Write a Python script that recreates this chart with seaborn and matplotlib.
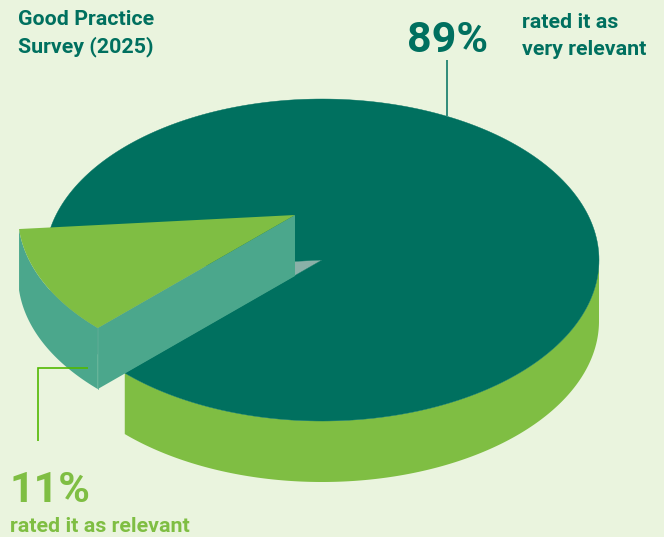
import numpy as np
import pandas as pd
import matplotlib
matplotlib.use("Agg")
import matplotlib.pyplot as plt
import seaborn as sns

# Survey shares
categories = ["very relevant", "relevant"]
shares = [89, 11]
share_labels = ["89%", "11%"]

BG = "#EAF4DE"
DARK = "#00705F"
GREEN = "#7FBE43"
TEAL = "#4BA78C"
INNER = "#8AB1A8"
LEADER = "#52B800"

sns.set_theme(style="white", rc={"figure.facecolor": BG, "axes.facecolor": BG})
plt.rcParams["font.family"] = ["Roboto", "DejaVu Sans"]

survey = pd.DataFrame({"category": categories, "share": shares})
sweep = survey.set_index("category")["share"] * 3.6

# Ellipse projection of the tilted disc, in pixel units
CX, CY, RX, RY = 322.0, 260.0, 277.0, 161.0
DEPTH = 61.0
OFFSET = (-27.0, -45.0)     # displacement of the pulled-out slice
CUT = 224.6                 # angle where the small slice starts, going clockwise


def rim(a0, a1, dx=0.0, dy=0.0, n=240):
    a = np.radians(np.linspace(a0, a1, n))
    return CX + dx + RX * np.cos(a), CY + dy - RY * np.sin(a)


fig = plt.figure(figsize=(6.64, 5.37), dpi=100)
ax = fig.add_axes([0, 0, 1, 1])
ax.set_xlim(0, 664)
ax.set_ylim(537, 0)
ax.axis("off")

cut_end = CUT - sweep["relevant"]

# Outer wall of the large sector (front part only)
x, y = rim(CUT, 360)
ax.fill(np.r_[x, x[::-1]], np.r_[y, y[::-1] + DEPTH], color=GREEN, lw=0, zorder=1)

# Top of the large sector and the exposed notch
x, y = rim(CUT, CUT + sweep["very relevant"])
ax.fill(np.r_[CX, x], np.r_[CY, y], color=DARK, lw=0.3, ec=DARK, zorder=2)
x, y = rim(cut_end, CUT)
ax.fill(np.r_[CX, x], np.r_[CY, y], color=INNER, lw=0, zorder=1.5)

# Pulled-out slice: outer wall, cut wall, top
dx, dy = OFFSET
x, y = rim(cut_end, CUT, dx, dy)
ax.fill(np.r_[x, x[::-1]], np.r_[y, y[::-1] + DEPTH], color=TEAL, lw=0, zorder=3)
ax.fill([CX + dx, x[-1], x[-1], CX + dx],
        [CY + dy, y[-1], y[-1] + DEPTH, CY + dy + DEPTH], color=TEAL, lw=0, zorder=3)
ax.plot([x[-1], x[-1]], [y[-1], y[-1] + DEPTH], color="#56AC93", lw=0.6, zorder=3.1)
ax.fill(np.r_[CX + dx, x], np.r_[CY + dy, y], color=GREEN, lw=0, zorder=4)

# Leader lines
ax.plot([447, 447], [60, 116], color=DARK, lw=1.1, zorder=5, solid_capstyle="butt")
ax.plot([38, 38, 88], [441, 368, 368], color=LEADER, lw=1.2, zorder=5,
        solid_capstyle="butt", solid_joinstyle="miter")

# Text
bold = dict(fontweight="bold", va="baseline", ha="left")
ax.text(18, 25, "Good Practice", color=DARK, fontsize=15.4, **bold)
ax.text(18, 52, "Survey (2025)", color=DARK, fontsize=15.4, **bold)
ax.text(407, 52, share_labels[0], color=DARK, fontsize=31, **bold)
ax.text(522, 28, "rated it as", color=DARK, fontsize=15.4, **bold)
ax.text(522, 55, "very relevant", color=DARK, fontsize=15.4, **bold)
ax.text(9.5, 502, share_labels[1], color=GREEN, fontsize=31, **bold)
ax.text(10, 532, "rated it as relevant", color=GREEN, fontsize=15.4, **bold)

fig.savefig("out.png", dpi=100, facecolor=BG)
